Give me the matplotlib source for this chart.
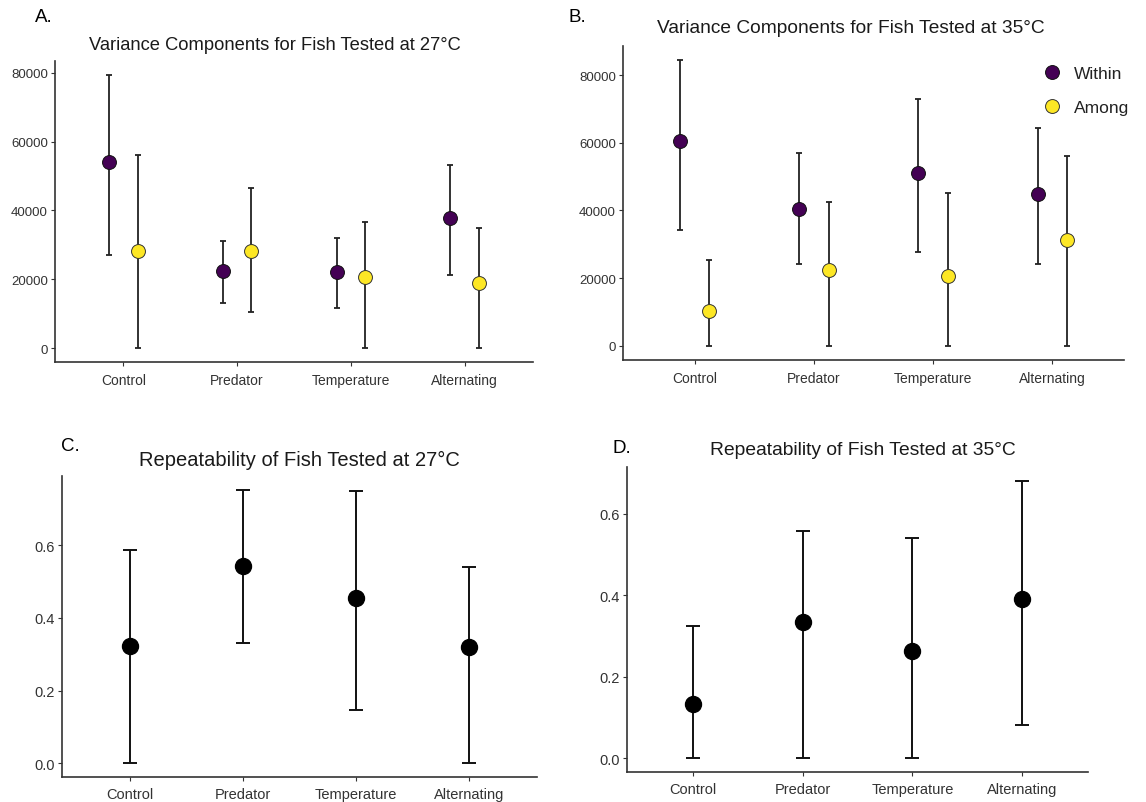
import matplotlib
matplotlib.use("Agg")
import matplotlib.pyplot as plt
import numpy as np

plt.rcParams['font.family'] = ['Liberation Sans', 'DejaVu Sans']

categories = ["Control", "Predator", "Temperature", "Alternating"]

# Panel A: variance components, 27°C
a_within = [54200, 22300, 22100, 37800]
a_within_lo = [27100, 13100, 11600, 21300]
a_within_hi = [79400, 31000, 32000, 53300]
a_among = [28100, 28100, 20800, 18900]
a_among_lo = [0, 10500, 0, 0]
a_among_hi = [56200, 46500, 36600, 35000]

# Panel B: variance components, 35°C
b_within = [60400, 40400, 51000, 44900]
b_within_lo = [34200, 24300, 27700, 24300]
b_within_hi = [84400, 57100, 72900, 64500]
b_among = [10300, 22400, 20600, 31400]
b_among_lo = [0, 0, 0, 0]
b_among_hi = [25200, 42400, 45200, 56200]

# Panel C: repeatability, 27°C
c_rep = [0.322, 0.542, 0.454, 0.319]
c_lo = [0.0, 0.332, 0.146, 0.0]
c_hi = [0.586, 0.753, 0.750, 0.539]

# Panel D: repeatability, 35°C
d_rep = [0.132, 0.334, 0.262, 0.391]
d_lo = [0.0, 0.0, 0.0, 0.082]
d_hi = [0.324, 0.558, 0.540, 0.681]

W, H = 1146, 803
fig = plt.figure(figsize=(W / 100, H / 100), dpi=100)


def add_ax(l, r, t, b):
    return fig.add_axes([l / W, 1 - b / H, (r - l) / W, (b - t) / H])


SPINE = "#333333"
TXT = "#333333"
C_WITHIN = "#440154"
C_AMONG = "#FDE725"


def style(ax, vals_hi, vals_lo, ytick_size, xtick_size, xpad):
    for s in ["top", "right"]:
        ax.spines[s].set_visible(False)
    for s in ["left", "bottom"]:
        ax.spines[s].set_color(SPINE)
        ax.spines[s].set_linewidth(1.2)
    ax.tick_params(axis="both", color=SPINE, length=3, width=0.8, labelcolor=TXT)
    ax.tick_params(axis="y", labelsize=ytick_size, pad=2)
    ax.tick_params(axis="x", labelsize=xtick_size, pad=xpad)
    x = np.arange(1, len(categories) + 1)
    ax.set_xticks(x)
    ax.set_xticklabels(categories)
    ax.set_xlim(0.4, len(categories) + 0.6)
    lo = min(vals_lo)
    hi = max(vals_hi)
    rng = hi - lo
    ax.set_ylim(lo - 0.05 * rng, hi + 0.05 * rng)


def var_panel(ax, w, wlo, whi, a, alo, ahi, title, title_size, tx, tpad):
    x = np.arange(1, len(categories) + 1)
    dx = 0.125
    w = np.array(w); a = np.array(a)
    ax.errorbar(x - dx, w, yerr=[w - np.array(wlo), np.array(whi) - w], fmt="none",
                ecolor="#222222", elinewidth=1.3, capsize=2.5, capthick=1.3, zorder=2)
    ax.errorbar(x + dx, a, yerr=[a - np.array(alo), np.array(ahi) - a], fmt="none",
                ecolor="#222222", elinewidth=1.3, capsize=2.5, capthick=1.3, zorder=2)
    ax.plot(x - dx, w, "o", ms=10, mfc=C_WITHIN, mec="#111111", mew=0.7, zorder=3, label="Within")
    ax.plot(x + dx, a, "o", ms=10, mfc=C_AMONG, mec="#333333", mew=0.7, zorder=3, label="Among")
    style(ax, list(whi) + list(ahi), list(wlo) + list(alo), 9.5, 10, 5)
    ax.set_yticks([0, 20000, 40000, 60000, 80000])
    ax.set_title(title, fontsize=title_size, color="#1a1a1a", pad=tpad)
    ax.title.set_position((tx, 1.0))


def rep_panel(ax, r, lo, hi, title, title_size, tx, tpad):
    x = np.arange(1, len(categories) + 1)
    r = np.array(r)
    ax.errorbar(x, r, yerr=[r - np.array(lo), np.array(hi) - r], fmt="none",
                ecolor="#111111", elinewidth=1.4, capsize=5, capthick=1.4, zorder=2)
    ax.plot(x, r, "o", ms=11.5, mfc="black", mec="black", zorder=3)
    style(ax, hi, lo, 10.5, 10.5, 4)
    ax.set_yticks([0.0, 0.2, 0.4, 0.6])
    ax.set_yticklabels(["0.0", "0.2", "0.4", "0.6"])
    ax.set_title(title, fontsize=title_size, color="#1a1a1a", pad=tpad)
    ax.title.set_position((tx, 1.0))


axA = add_ax(55, 533, 62, 363)
var_panel(axA, a_within, a_within_lo, a_within_hi, a_among, a_among_lo, a_among_hi,
          "Variance Components for Fish Tested at 27°C", 13.2, 0.46, 9)

axB = add_ax(623, 1124, 47, 361)
var_panel(axB, b_within, b_within_lo, b_within_hi, b_among, b_among_lo, b_among_hi,
          "Variance Components for Fish Tested at 35°C", 13.8, 0.455, 10)
leg = axB.legend(loc="upper left", frameon=False, fontsize=12.5, handletextpad=0.75,
                 borderaxespad=0.0, labelspacing=1.05, handlelength=1.0,
                 bbox_to_anchor=(0.826, 0.958))
for t in leg.get_texts():
    t.set_color("#222222")

axC = add_ax(62, 537, 477, 778)
rep_panel(axC, c_rep, c_lo, c_hi, "Repeatability of Fish Tested at 27°C", 14.5, 0.50, 8)

axD = add_ax(627, 1088, 468, 773)
rep_panel(axD, d_rep, d_lo, d_hi, "Repeatability of Fish Tested at 35°C", 13.9, 0.512, 9)

# panel letters
for lbl, px, py in [("A.", 35, 18), ("B.", 569, 18), ("C.", 61, 447), ("D.", 613, 449)]:
    fig.text(px / W, 1 - py / H, lbl, fontsize=13.5, ha="left", va="center", color="black")

fig.savefig("out.png", dpi=100, facecolor="white")
